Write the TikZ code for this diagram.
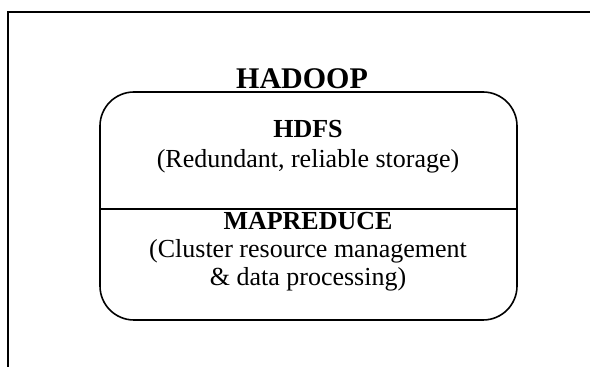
\documentclass[tikz,border=0pt]{standalone}
\usepackage{fontspec}
\setmainfont{Liberation Serif}
\begin{document}
\begin{tikzpicture}[x=1pt,y=1pt,
  frameline/.style={line width=1.6pt,black},
  boxline/.style={line width=1.6pt,black},
  title/.style={anchor=base,inner sep=0pt,font=\fontsize{30}{34}\selectfont\bfseries},
  head/.style={anchor=base,inner sep=0pt,font=\fontsize{26}{29}\selectfont\bfseries},
  body/.style={anchor=base,inner sep=0pt,font=\fontsize{26}{29}\selectfont}]
\useasboundingbox (0,0) rectangle (590,367);
% outer frame (only top and left visible)
\coordinate (fTL) at (8,355);
\coordinate (fTR) at (590,355);
\coordinate (fBL) at (8,0);
\draw[frameline] (fTR) -- (fTL) -- (fBL);
% rounded box
\coordinate (bTL) at (100,275);
\coordinate (bBR) at (517,47);
\draw[boxline,rounded corners=34pt] (bTL) rectangle (bBR);
\coordinate (dL) at (100,158);
\coordinate (dR) at (517,158);
\draw[boxline] (dL) -- (dR);
% texts
\node[title] (hadoop) at (302,278) {HADOOP};
\node[head] (hdfs) at (308,229) {HDFS};
\node[body] (hdfsdesc) at (308,199) {(Redundant, reliable storage)};
\node[head] (mr) at (308,137.5) {MAPREDUCE};
\node[body] (mrdesc1) at (308,109.5) {(Cluster resource management};
\node[body] (mrdesc2) at (308,81.5) {\& data processing)};
\end{tikzpicture}
\end{document}
